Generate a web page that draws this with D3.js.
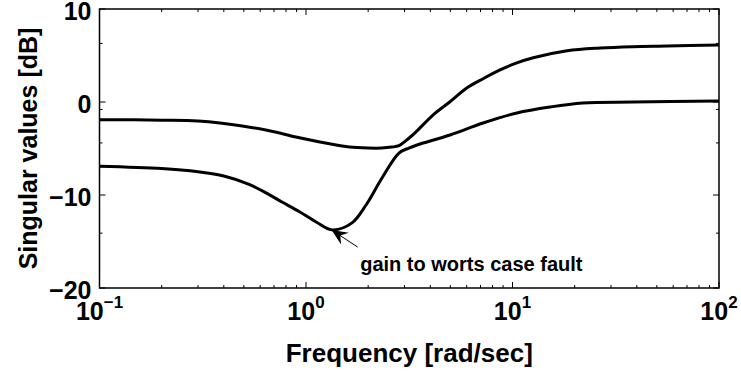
<!DOCTYPE html>
<html>
<head>
<meta charset="utf-8">
<script src="https://cdn.jsdelivr.net/npm/d3@7"></script>
<style>
body { margin: 0; background: #fff; }
text { font-family: "Liberation Sans", Arial, sans-serif; font-weight: bold; fill: #000; }
</style>
</head>
<body>
<div id="chart"></div>
<script>
// singular value curves (frequency in rad/sec, value in dB)
var upperFreq = [0.1, 0.2, 0.3, 0.5, 0.7, 0.93, 1.3, 1.62, 2.0, 2.33, 2.6, 2.82, 3.15, 3.45, 4.12, 5.0, 6.0, 7.2, 8.7, 10.5, 12.6, 18.4, 26.5, 38, 56, 100];
var upperDb   = [-1.9, -1.95, -2.05, -2.6, -3.2, -3.85, -4.5, -4.84, -4.95, -4.95, -4.85, -4.7, -3.9, -3.1, -1.4, 0.05, 1.5, 2.5, 3.45, 4.2, 4.75, 5.5, 5.8, 5.95, 6.02, 6.13];

var lowerFreq = [0.1, 0.2, 0.3, 0.4, 0.53, 0.65, 0.765, 0.93, 1.12, 1.34, 1.67, 1.95, 2.33, 2.82, 3.15, 3.45, 4.98, 7.2, 10.5, 15.2, 21.9, 38.3, 100];
var lowerDb   = [-6.9, -7.15, -7.5, -7.95, -8.85, -9.85, -10.75, -11.8, -12.9, -13.75, -13.0, -11.1, -8.2, -5.5, -4.95, -4.62, -3.55, -2.26, -1.18, -0.54, -0.11, 0.0, 0.1];

var xDecades = [0.1, 1, 10, 100];
var xExponents = ["\u22121", "0", "1", "2"];
var yTicks = [10, 0, -10, -20];
var yTickLabels = ["10", "0", "\u221210", "\u221220"];
var yMinorTicks = [6.3, -0.8, -4.4, -14.1];

var annText = "gain to worts case fault";
var arrowTip = [1.33, -13.75];
var arrowTail = [1.78, -15.6];
var textAt = [1.83, -18.15];

var W = 741, H = 371;
var m = {left: 99.5, right: 719, top: 9, bottom: 288};

var svg = d3.select("#chart").append("svg")
  .attr("width", W).attr("height", H);

var x = d3.scaleLog().domain([0.1, 100]).range([m.left, m.right]);
var y = d3.scaleLinear().domain([-20, 10]).range([m.bottom, m.top]);

// x ticks, inward on bottom and top
var xt = x.ticks();
var tickG = svg.append("g").attr("stroke", "#000").attr("stroke-width", 1);
xt.forEach(function(t) {
  var major = xDecades.indexOf(t) >= 0;
  var len = major ? 6 : 3;
  tickG.append("line").attr("x1", x(t)).attr("x2", x(t)).attr("y1", m.bottom).attr("y2", m.bottom - len);
  tickG.append("line").attr("x1", x(t)).attr("x2", x(t)).attr("y1", m.top).attr("y2", m.top + len);
});
yTicks.forEach(function(t) {
  tickG.append("line").attr("x1", m.left).attr("x2", m.left + 6).attr("y1", y(t)).attr("y2", y(t));
  tickG.append("line").attr("x1", m.right).attr("x2", m.right - 6).attr("y1", y(t)).attr("y2", y(t));
});
yMinorTicks.forEach(function(t) {
  tickG.append("line").attr("x1", m.left).attr("x2", m.left + 3).attr("y1", y(t)).attr("y2", y(t));
  tickG.append("line").attr("x1", m.right).attr("x2", m.right - 3).attr("y1", y(t)).attr("y2", y(t));
});

// frame
svg.append("rect")
  .attr("x", m.left).attr("y", m.top)
  .attr("width", m.right - m.left).attr("height", m.bottom - m.top)
  .attr("fill", "none").attr("stroke", "#000").attr("stroke-width", 1.5);

// y tick labels
svg.append("g").selectAll("text")
  .data(yTicks).enter().append("text")
  .attr("x", m.left - 8)
  .attr("y", function(d) { return y(d) + 11; })
  .attr("text-anchor", "end")
  .style("font-size", "25px")
  .text(function(d, i) { return yTickLabels[i]; });

// x tick labels 10^n
xDecades.forEach(function(d, i) {
  var t = svg.append("text")
    .attr("x", x(d))
    .attr("y", 320)
    .attr("text-anchor", "middle")
    .style("font-size", "25px");
  t.append("tspan").text("10");
  t.append("tspan").attr("dy", -12).style("font-size", "17px").text(xExponents[i]);
});

// axis titles
svg.append("text")
  .attr("x", (m.left + m.right) / 2).attr("y", 362)
  .attr("text-anchor", "middle")
  .style("font-size", "26px")
  .text("Frequency [rad/sec]");

svg.append("g")
  .attr("transform", "translate(37," + ((m.top + m.bottom) / 2) + ")")
  .append("text")
  .attr("transform", "rotate(-90)")
  .attr("text-anchor", "middle")
  .style("font-size", "25px")
  .text("Singular values [dB]");

// curves
var line = d3.line()
  .x(function(d) { return x(d[0]); })
  .y(function(d) { return y(d[1]); })
  .curve(d3.curveCatmullRom.alpha(0.5));

var curves = [d3.zip(upperFreq, upperDb), d3.zip(lowerFreq, lowerDb)];
svg.append("g").selectAll("path")
  .data(curves).enter().append("path")
  .attr("d", line)
  .attr("fill", "none")
  .attr("stroke", "#000")
  .attr("stroke-width", 3)
  .attr("stroke-linejoin", "round");

// annotation arrow
var tx = x(arrowTip[0]), ty = y(arrowTip[1]);
var sx = x(arrowTail[0]), sy = y(arrowTail[1]);
var ang = Math.atan2(ty - sy, tx - sx);
svg.append("line")
  .attr("x1", sx).attr("y1", sy).attr("x2", tx).attr("y2", ty)
  .attr("stroke", "#000").attr("stroke-width", 1);
var hl = 16, hw = 7;
var ux = Math.cos(ang), uy = Math.sin(ang);
var bx = tx - ux * hl, by = ty - uy * hl;
var nx = tx - ux * hl * 0.65, ny = ty - uy * hl * 0.65;
svg.append("path")
  .attr("d", "M" + tx + "," + ty +
    "L" + (bx - uy * hw) + "," + (by + ux * hw) +
    "L" + nx + "," + ny +
    "L" + (bx + uy * hw) + "," + (by - ux * hw) + "Z")
  .attr("fill", "#000");

svg.append("text")
  .attr("x", x(textAt[0])).attr("y", y(textAt[1]))
  .style("font-size", "20px")
  .text(annText);
</script>
</body>
</html>
